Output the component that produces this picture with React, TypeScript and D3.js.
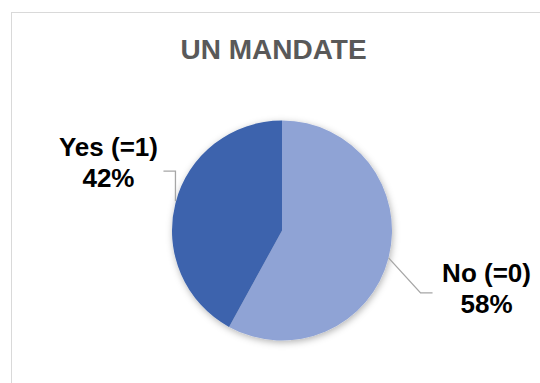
import React from "react";
import * as d3 from "d3";

const categories = ["No (=0)", "Yes (=1)"];
const values = [58, 42];
const colors = ["#8fa3d5", "#3c63ad"];
const title = "UN MANDATE";

const W = 540;
const H = 383;
const cx = 282;
const cy = 230.5;
const R = 110;

export default function App() {
  const pie = d3.pie<number>().sort(null).value((d) => d);
  const arcs = pie(values);
  const arc = d3.arc<d3.PieArcDatum<number>>().innerRadius(0).outerRadius(R);
  const total = d3.sum(values);
  const fmt = (v: number) => `${Math.round((v / total) * 100)}%`;

  const edge = (a: d3.PieArcDatum<number>) => {
    const m = (a.startAngle + a.endAngle) / 2;
    return [cx + R * Math.sin(m), cy - R * Math.cos(m)];
  };

  const eNo = edge(arcs[0]);
  const eYes = edge(arcs[1]);

  const noPath = `M${eNo[0]},${eNo[1]} L${eNo[0] + 32},${eNo[1] + 35} L${eNo[0] + 44},${eNo[1] + 35}`;
  const yesPath = `M${eYes[0]},${eYes[1] - 2} L${eYes[0]},${eYes[1] - 32} L${eYes[0] - 12},${eYes[1] - 32}`;

  const font = "'Liberation Sans', Arial, sans-serif";

  return (
    <svg
      width={W}
      height={H}
      style={{ position: "absolute", left: 0, top: 0, background: "#fff" }}
    >
      <defs>
        <filter id="sh" x="-20%" y="-20%" width="140%" height="140%">
          <feDropShadow dx="1" dy="2" stdDeviation="3.5" floodColor="#000" floodOpacity="0.3" />
        </filter>
      </defs>
      <rect x={11.5} y={12.5} width={W} height={H} fill="#fff" stroke="#d9d9d9" strokeWidth={1} />
      <text
        x={273.5}
        y={58.5}
        textAnchor="middle"
        fontFamily={font}
        fontWeight="bold"
        fontSize={28}
        fill="#595959"
      >
        {title}
      </text>
      <g transform={`translate(${cx},${cy})`} filter="url(#sh)">
        {arcs.map((a, i) => (
          <path key={i} d={arc(a) || ""} fill={colors[i]} />
        ))}
      </g>
      <path d={noPath} fill="none" stroke="#a6a6a6" strokeWidth={1.3} />
      <path d={yesPath} fill="none" stroke="#a6a6a6" strokeWidth={1.3} />
      <text fontFamily={font} fontWeight="bold" fontSize={26} fill="#000" textAnchor="middle">
        <tspan x={eNo[0] + 98} y={eNo[1] + 24}>{categories[0]}</tspan>
        <tspan x={eNo[0] + 98} y={eNo[1] + 55}>{fmt(values[0])}</tspan>
      </text>
      <text fontFamily={font} fontWeight="bold" fontSize={26} fill="#000" textAnchor="middle">
        <tspan x={eYes[0] - 67} y={eYes[1] - 47}>{categories[1]}</tspan>
        <tspan x={eYes[0] - 67} y={eYes[1] - 16}>{fmt(values[1])}</tspan>
      </text>
    </svg>
  );
}
